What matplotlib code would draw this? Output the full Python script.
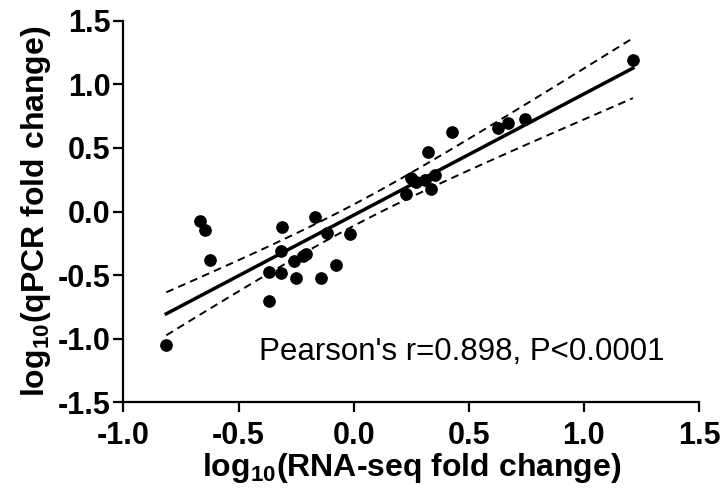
import matplotlib
matplotlib.use("Agg")
import matplotlib.pyplot as plt
import numpy as np

plt.rcParams['font.family'] = ['Liberation Sans', 'DejaVu Sans']
plt.rcParams['mathtext.default'] = 'regular'

# log10 fold changes
rnaseq = [-0.814, -0.668, -0.645, -0.626, -0.369, -0.369, -0.316, -0.316, -0.312,
          -0.249, -0.259, -0.222, -0.205, -0.169, -0.115, -0.140, -0.078, -0.015,
          0.229, 0.249, 0.271, 0.312, 0.355, 0.337, 0.322, 0.425, 0.625, 0.671,
          0.744, 1.213]
qpcr = [-1.049, -0.075, -0.145, -0.381, -0.701, -0.478, -0.486, -0.308, -0.119,
        -0.525, -0.386, -0.350, -0.330, -0.040, -0.171, -0.525, -0.420, -0.177,
        0.138, 0.266, 0.229, 0.248, 0.287, 0.174, 0.465, 0.622, 0.659, 0.693,
        0.727, 1.191]
ticks = [-1.5, -1.0, -0.5, 0.0, 0.5, 1.0, 1.5]
stat_text = "Pearson's r=0.898, P<0.0001"

x = np.array(rnaseq)
y = np.array(qpcr)

# linear fit and 95% confidence band of the mean
slope, icpt = np.polyfit(x, y, 1)
n = len(x)
resid = y - (slope * x + icpt)
s = np.sqrt(np.sum(resid ** 2) / (n - 2))
t = 2.048  # t(0.975, df=28)
xs = np.linspace(x.min(), x.max(), 100)
ys = slope * xs + icpt
se = s * np.sqrt(1.0 / n + (xs - x.mean()) ** 2 / np.sum((x - x.mean()) ** 2))

fig = plt.figure(figsize=(7.25, 4.99), dpi=100)
ax = fig.add_axes([0.1703, 0.1934, 0.7938, 0.7651])

ax.plot(xs, ys, color='black', lw=2.5)
ax.plot(xs, ys + t * se, color='black', lw=1.4, ls=(0, (4, 2.7)))
ax.plot(xs, ys - t * se, color='black', lw=1.4, ls=(0, (4, 2.7)))
ax.scatter(x, y, s=66, color='black', zorder=3, clip_on=False)

ax.set_xlim(-1.0, 1.5)
ax.set_ylim(-1.5, 1.5)
ax.set_xticks(ticks[1:])
ax.set_yticks(ticks)
ax.set_xticklabels(['%.1f' % v for v in ticks[1:]])
ax.set_yticklabels(['%.1f' % v for v in ticks])

for side in ['top', 'right']:
    ax.spines[side].set_visible(False)
for side in ['left', 'bottom']:
    ax.spines[side].set_linewidth(1.6)
ax.tick_params(width=1.6, length=7.5, labelsize=22)
ax.tick_params(axis='x', pad=6)
ax.tick_params(axis='y', pad=2)
for lab in ax.get_xticklabels() + ax.get_yticklabels():
    lab.set_fontweight('bold')

ax.set_xlabel('log$_{10}$(RNA-seq fold change)', fontsize=23, fontweight='bold', labelpad=0)
ax.set_ylabel('log$_{10}$(qPCR fold change)', fontsize=23, fontweight='bold', labelpad=3)

ax.text(-0.41, -1.10, stat_text, fontsize=22.5, ha='left', va='center')

fig.savefig('out.png', dpi=100)
